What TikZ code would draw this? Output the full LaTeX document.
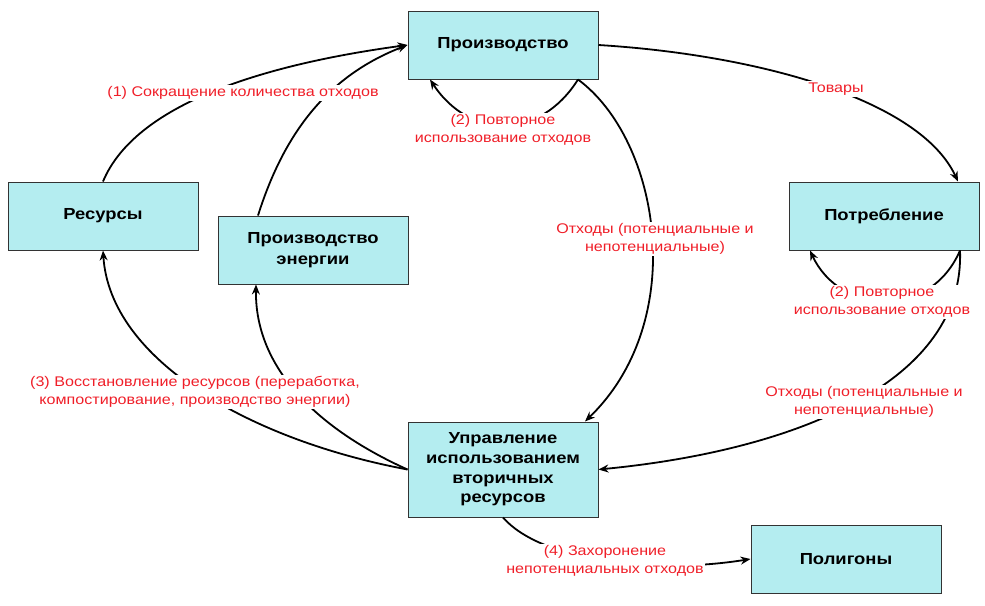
\documentclass[tikz,border=0pt]{standalone}
\usepackage{fontspec}
\setmainfont[FakeStretch=1.15]{Liberation Sans}
\usetikzlibrary{arrows.meta,calc}
\definecolor{boxfill}{RGB}{180,237,240}
\definecolor{lblred}{RGB}{240,30,40}
\tikzset{
  box/.style={draw=black!80, line width=1pt, fill=boxfill, minimum width=190pt, minimum height=68pt,
    align=center, inner sep=2pt, font=\bfseries\fontsize{16}{21}\selectfont},
  lbl/.style={text=lblred, fill=white, align=center, inner sep=1.5pt, font=\fontsize{14}{17.5}\selectfont},
  conn/.style={line width=1.8pt, -{Stealth[length=10pt,width=8pt]}},
}
\begin{document}
\begin{tikzpicture}[x=1pt,y=-1pt]
\useasboundingbox (0,0) rectangle (985,605);
\node[box] (prod) at (503,45) {Производство};
\node[box] (res) at (103,216) {Ресурсы};
\node[box] (en) at (313,250) {Производство\\энергии};
\node[box] (cons) at (884,216) {Потребление};
\node[box, minimum height=95pt, font=\bfseries\fontsize{16}{19.7}\selectfont] (upr) at (503,469.5) {Управление\\использованием\\вторичных\\ресурсов};
\node[box] (pol) at (846,559) {Полигоны};

\draw[conn] (res.north) .. controls (135,105) and (260,65) .. (prod.west);
\draw[conn] ([xshift=-55pt]en.north) .. controls (285,130) and (330,75) .. (prod.west);
\draw[conn] ([xshift=75pt]prod.south) .. controls (540,140) and (470,140) .. ([xshift=-73pt]prod.south);
\draw[conn] (prod.east) .. controls (760,55) and (920,100) .. ([xshift=74pt]cons.north);
\draw[conn] ([xshift=75pt]prod.south) .. controls (660,140) and (690,320) .. ([xshift=82pt]upr.north);
\draw[conn] ([xshift=76pt]cons.south) .. controls (930,320) and (840,315) .. ([xshift=-74pt]cons.south);
\draw[conn] ([xshift=76pt]cons.south) .. controls (965,380) and (800,450) .. (upr.east);
\draw[conn] (upr.west) .. controls (250,440) and (110,360) .. (res.south);
\draw[conn] (upr.west) .. controls (320,430) and (255,370) .. ([xshift=-57pt]en.south);
\draw[conn] (upr.south) .. controls (540,560) and (650,575) .. (pol.west);

\node[lbl] (l1) at (243,93) {(1) Сокращение количества отходов};
\node[lbl] (l2) at (503,130) {(2) Повторное\\использование отходов};
\node[lbl] (l3) at (836,89) {Товары};
\node[lbl] (l4) at (655,239) {Отходы (потенциальные и\\непотенциальные)};
\node[lbl] (l5) at (882,302) {(2) Повторное\\использование отходов};
\node[lbl] (l6) at (864,402) {Отходы (потенциальные и\\непотенциальные)};
\node[lbl] (l7) at (195,392) {(3) Восстановление ресурсов (переработка,\\компостирование, производство энергии)};
\node[lbl] (l8) at (605,561) {(4) Захоронение\\непотенциальных отходов};
\end{tikzpicture}
\end{document}
